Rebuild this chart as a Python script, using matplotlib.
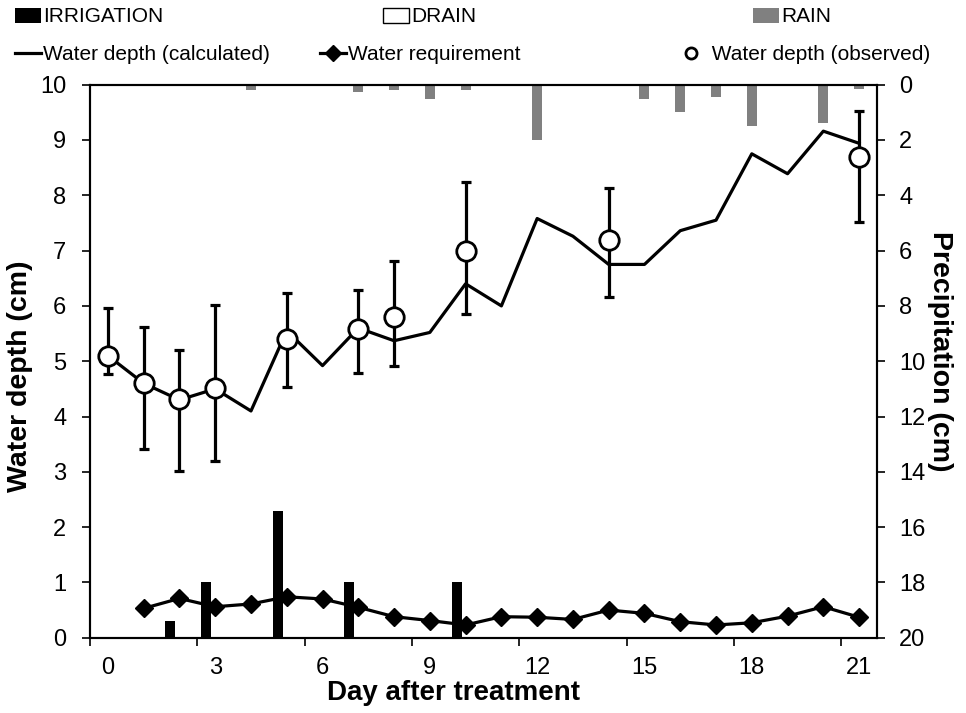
import numpy as np
import matplotlib
matplotlib.use("Agg")
import matplotlib.pyplot as plt
from matplotlib.lines import Line2D
from matplotlib.patches import Patch

plt.rcParams['font.family'] = ['Liberation Sans', 'DejaVu Sans']

# ----------------------------
# Data
# ----------------------------
days = np.arange(22)
depth_calc = [5.1, 4.6, 4.3, 4.5, 4.1, 5.55, 4.92, 5.6, 5.37, 5.52, 6.4,
              6.0, 7.58, 7.26, 6.75, 6.75, 7.36, 7.55, 8.75, 8.39, 9.16, 8.94]

obs_days = [0, 1, 2, 3, 5, 7, 8, 10, 14, 21]
obs_depth = [5.1, 4.6, 4.31, 4.51, 5.4, 5.59, 5.8, 7.0, 7.2, 8.7]
obs_high = [5.97, 5.61, 5.2, 6.02, 6.24, 6.29, 6.81, 8.24, 8.14, 9.53]
obs_low = [4.77, 3.41, 3.02, 3.2, 4.54, 4.79, 4.91, 5.85, 6.16, 7.52]

req_days = np.arange(1, 22)
requirement = [0.53, 0.71, 0.56, 0.61, 0.74, 0.70, 0.55, 0.38, 0.31, 0.23, 0.38,
               0.37, 0.33, 0.50, 0.44, 0.29, 0.23, 0.27, 0.39, 0.56, 0.37]

irr_days = [2, 3, 5, 7, 10]
irrigation = [0.3, 1.0, 2.3, 1.0, 1.0]

drain_days = []
drain = []

rain_days = [4, 7, 8, 9, 10, 12, 15, 16, 17, 18, 19, 20, 21]
rain = [0.18, 0.25, 0.2, 0.5, 0.18, 2.0, 0.5, 1.0, 0.45, 1.5, 0.05, 1.4, 0.15]

x_labels = [0, 3, 6, 9, 12, 15, 18, 21]

# ----------------------------
# Figure
# ----------------------------
fig = plt.figure(figsize=(9.66, 7.13), dpi=100)
ax = fig.add_axes([90 / 966, 1 - 637.7 / 713, 787 / 966, 553 / 713])
ax2 = ax.twinx()
ax.set_zorder(ax2.get_zorder() + 1)
ax.patch.set_visible(False)

bar_w = 0.28
ax.bar(np.array(irr_days) - 0.25, irrigation, width=bar_w, color='black', zorder=1)
ax.bar(np.array(drain_days, dtype=float) + 0.25, drain, width=bar_w,
       color='white', edgecolor='black', zorder=1)
ax2.bar(rain_days, rain, width=bar_w, color='#808080')

ax.plot(days, depth_calc, color='black', lw=2.3, zorder=3)
ax.plot(req_days, requirement, color='black', lw=2.3, marker='D', ms=9, zorder=3)

err = [np.array(obs_depth) - np.array(obs_low), np.array(obs_high) - np.array(obs_depth)]
ax.errorbar(obs_days, obs_depth, yerr=err, fmt='none', ecolor='black',
            elinewidth=2.3, capsize=3.3, capthick=2.3, zorder=4)
ax.plot(obs_days, obs_depth, ls='none', marker='o', ms=14, mfc='white',
        mec='black', mew=2, zorder=5)

# ----------------------------
# Axes
# ----------------------------
ax.set_xlim(-0.5, 21.5)
ax.set_ylim(0, 10)
ax2.set_ylim(20, 0)

ax.set_xticks(x_labels)
ax.set_xticklabels([str(d) for d in x_labels])
ax.set_xticks(np.arange(-0.5, 21, 3), minor=True)
ax.tick_params(axis='x', which='major', length=0, pad=14, labelsize=17)
ax.tick_params(axis='x', which='minor', length=6, width=1.2, direction='out')

ax.set_yticks(np.arange(0, 11, 1))
ax.tick_params(axis='y', length=6, width=1.2, pad=11, labelsize=17)
ax2.set_yticks(np.arange(0, 21, 2))
ax2.tick_params(axis='y', length=6, width=1.2, pad=10, labelsize=17)

for a in (ax, ax2):
    for s in a.spines.values():
        s.set_linewidth(1.5)

ax.set_xlabel("Day after treatment", fontsize=20, fontweight='bold')
ax.xaxis.set_label_coords(0.462, -0.076)
ax.set_ylabel("Water depth (cm)", fontsize=20.5, fontweight='bold')
ax.yaxis.set_label_coords(-0.072, 0.472)
ax2.set_ylabel("Precipitation (cm)", fontsize=20.5, fontweight='bold', rotation=270)
ax2.yaxis.set_label_coords(1.097, 0.518)

# ----------------------------
# Legend (two rows, items placed like the original)
# ----------------------------
items = [
    (Patch(facecolor='black'), "IRRIGATION", 15, 17),
    (Patch(facecolor='white', edgecolor='black'), "DRAIN", 383, 17),
    (Patch(facecolor='#808080'), "RAIN", 753, 17),
    (Line2D([], [], color='black', lw=2.3), "Water depth (calculated)", 15, 55),
    (Line2D([], [], color='black', lw=2.3, marker='D', ms=8), "Water requirement", 320, 55),
    (Line2D([], [], ls='none', marker='o', ms=8, mfc='white', mec='black', mew=2),
     " Water depth (observed)", 678, 55),
]
for handle, label, px, py in items:
    leg = fig.legend([handle], [label], loc='center left',
                     bbox_to_anchor=(px / 966, 1 - py / 713), frameon=False,
                     borderpad=0, borderaxespad=0, handletextpad=0.1,
                     handlelength=1.25, fontsize=15)

fig.savefig("out.png", dpi=100)
